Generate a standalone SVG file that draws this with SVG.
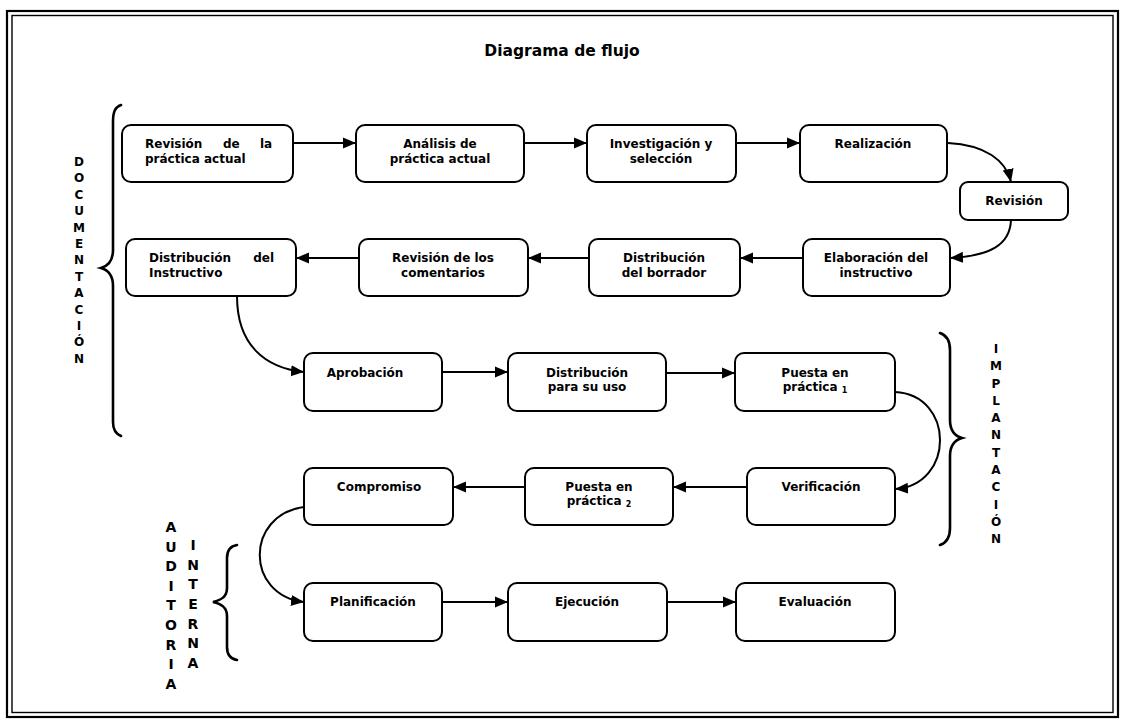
<svg xmlns="http://www.w3.org/2000/svg" width="1125" height="722" viewBox="0 0 1125 722">
<defs>
<marker id="ah" markerUnits="userSpaceOnUse" markerWidth="14" markerHeight="12" refX="13" refY="6" orient="auto">
<path d="M0,0.5 L13,6 L0,11.5 Z" fill="#000"/>
</marker>
<style>
.box{fill:#fff;stroke:#000;stroke-width:2}
.t{font-family:"DejaVu Sans",Verdana,sans-serif;font-weight:bold;font-size:12px;fill:#000}
.c{text-anchor:middle}
.con{fill:none;stroke:#000;stroke-width:2}
.arr{fill:none;stroke:#000;stroke-width:2;marker-end:url(#ah)}
.br{fill:none;stroke:#000;stroke-width:2.6;stroke-linecap:round}
.v{font-family:"DejaVu Sans",Verdana,sans-serif;font-weight:bold;font-size:12px;fill:#000;text-anchor:middle}
.sub{font-size:8px}
</style>
</defs>
<rect width="1125" height="722" fill="#fff"/>
<rect x="7" y="11" width="1111" height="706" fill="none" stroke="#000" stroke-width="2.2"/>
<rect x="12" y="15.5" width="1101" height="697" fill="none" stroke="#000" stroke-width="1.4"/>
<text x="562" y="56" class="t c" style="font-size:15.5px">Diagrama de flujo</text>

<g id="n1"><rect class="box" x="122" y="125" width="171" height="57" rx="9"/>
<text class="t" x="145" y="148">Revisión</text><text class="t" x="223" y="148">de</text><text class="t" x="260" y="148">la</text>
<text class="t" x="145" y="163">práctica actual</text></g>
<g id="n2"><rect class="box" x="356" y="125" width="168" height="57" rx="9"/>
<text class="t c" x="440" y="148">Análisis de</text><text class="t c" x="440" y="163">práctica actual</text></g>
<g id="n3"><rect class="box" x="587" y="125" width="149" height="57" rx="9"/>
<text class="t c" x="661" y="148">Investigación y</text><text class="t c" x="661" y="163">selección</text></g>
<g id="n4"><rect class="box" x="800" y="125" width="147" height="57" rx="9"/>
<text class="t c" x="873" y="148">Realización</text></g>
<g id="n5"><rect class="box" x="960" y="182" width="108" height="38" rx="8"/>
<text class="t c" x="1014" y="205">Revisión</text></g>
<g id="n6"><rect class="box" x="803" y="239" width="147" height="57" rx="9"/>
<text class="t c" x="876" y="262">Elaboración del</text><text class="t c" x="876" y="277">instructivo</text></g>
<g id="n7"><rect class="box" x="589" y="239" width="151" height="57" rx="9"/>
<text class="t c" x="664" y="262">Distribución</text><text class="t c" x="664" y="277">del borrador</text></g>
<g id="n8"><rect class="box" x="359" y="239" width="169" height="57" rx="9"/>
<text class="t c" x="443" y="262">Revisión de los</text><text class="t c" x="443" y="277">comentarios</text></g>
<g id="n9"><rect class="box" x="126" y="239" width="170" height="57" rx="9"/>
<text class="t" x="149" y="262">Distribución</text><text class="t" x="274" y="262" text-anchor="end">del</text>
<text class="t" x="149" y="277">Instructivo</text></g>
<g id="n10"><rect class="box" x="304" y="353" width="138" height="58" rx="9"/>
<text class="t c" x="365" y="377">Aprobación</text></g>
<g id="n11"><rect class="box" x="508" y="353" width="158" height="58" rx="9"/>
<text class="t c" x="587" y="377">Distribución</text><text class="t c" x="587" y="391">para su uso</text></g>
<g id="n12"><rect class="box" x="735" y="353" width="160" height="58" rx="9"/>
<text class="t c" x="815" y="377">Puesta en</text><text class="t c" x="815" y="391">práctica <tspan class="sub" dy="2">1</tspan></text></g>
<g id="n13"><rect class="box" x="747" y="468" width="148" height="57" rx="9"/>
<text class="t c" x="821" y="491">Verificación</text></g>
<g id="n14"><rect class="box" x="525" y="468" width="148" height="57" rx="9"/>
<text class="t c" x="599" y="491">Puesta en</text><text class="t c" x="599" y="505">práctica <tspan class="sub" dy="2">2</tspan></text></g>
<g id="n15"><rect class="box" x="304" y="468" width="149" height="57" rx="9"/>
<text class="t c" x="379" y="491">Compromiso</text></g>
<g id="n16"><rect class="box" x="304" y="583" width="138" height="58" rx="9"/>
<text class="t c" x="373" y="606">Planificación</text></g>
<g id="n17"><rect class="box" x="508" y="583" width="159" height="58" rx="9"/>
<text class="t c" x="587" y="606">Ejecución</text></g>
<g id="n18"><rect class="box" x="736" y="583" width="159" height="58" rx="9"/>
<text class="t c" x="815" y="606">Evaluación</text></g>

<g id="connectors">
<path class="arr" d="M293,143 H356"/>
<path class="arr" d="M524,143 H587"/>
<path class="arr" d="M736,143 H800"/>
<path class="arr" d="M948,143 C985,145 1006,160 1011,182"/>
<path class="arr" d="M1011,220 C1010,245 990,256 950,258"/>
<path class="arr" d="M803,258 H740"/>
<path class="arr" d="M589,258 H528"/>
<path class="arr" d="M359,258 H296"/>
<path class="arr" d="M237,296 C237,345 265,368 304,372"/>
<path class="arr" d="M442,372 H508"/>
<path class="arr" d="M666,373 H735"/>
<path class="arr" d="M895,392 C955,395 955,485 895,489"/>
<path class="arr" d="M747,487 H673"/>
<path class="arr" d="M525,487 H453"/>
<path class="arr" d="M304,507 C245,515 245,595 304,602"/>
<path class="arr" d="M442,602 H508"/>
<path class="arr" d="M667,602 H736"/>
</g>

<g id="braces">
<path class="br" d="M121,105 C115,107 113,112 113,122 V250 C113,261 108,266 101,268 C108,270 113,275 113,286 V422 C113,430 116,434 121,436"/>
<path class="br" d="M940,333 C946,335 950,340 950,350 V420 C950,431 955,436 962,438 C955,440 950,445 950,456 V528 C950,538 946,543 940,545"/>
<path class="br" d="M237,545 C231,546 227,550 227,558 V588 C227,597 221,600 213,602 C221,604 227,607 227,616 V647 C227,655 231,659 237,660"/>
</g>

<g id="label-documentacion">
<text class="v" x="79" y="166">D</text><text class="v" x="79" y="182.4">O</text><text class="v" x="79" y="198.8">C</text><text class="v" x="79" y="215.2">U</text><text class="v" x="79" y="231.6">M</text><text class="v" x="79" y="248">E</text><text class="v" x="79" y="264.4">N</text><text class="v" x="79" y="280.8">T</text><text class="v" x="79" y="297.2">A</text><text class="v" x="79" y="313.6">C</text><text class="v" x="79" y="330">I</text><text class="v" x="79" y="346.4">Ó</text><text class="v" x="79" y="362.8">N</text>
</g>
<g id="label-implantacion">
<text class="v" x="996" y="353">I</text><text class="v" x="996" y="370.3">M</text><text class="v" x="996" y="387.5">P</text><text class="v" x="996" y="404.8">L</text><text class="v" x="996" y="422.1">A</text><text class="v" x="996" y="439.4">N</text><text class="v" x="996" y="456.6">T</text><text class="v" x="996" y="473.9">A</text><text class="v" x="996" y="491.2">C</text><text class="v" x="996" y="508.5">I</text><text class="v" x="996" y="525.7">Ó</text><text class="v" x="996" y="543">N</text>
</g>
<g id="label-auditoria" style="font-size:14px">
<text class="v" style="font-size:14px" x="171" y="532">A</text><text class="v" style="font-size:14px" x="171" y="551.6">U</text><text class="v" style="font-size:14px" x="171" y="571.2">D</text><text class="v" style="font-size:14px" x="171" y="590.8">I</text><text class="v" style="font-size:14px" x="171" y="610.4">T</text><text class="v" style="font-size:14px" x="171" y="630">O</text><text class="v" style="font-size:14px" x="171" y="649.6">R</text><text class="v" style="font-size:14px" x="171" y="669.2">I</text><text class="v" style="font-size:14px" x="171" y="688.8">A</text>
</g>
<g id="label-interna">
<text class="v" style="font-size:14px" x="193" y="550">I</text><text class="v" style="font-size:14px" x="193" y="569.7">N</text><text class="v" style="font-size:14px" x="193" y="589.3">T</text><text class="v" style="font-size:14px" x="193" y="609">E</text><text class="v" style="font-size:14px" x="193" y="628.7">R</text><text class="v" style="font-size:14px" x="193" y="648.3">N</text><text class="v" style="font-size:14px" x="193" y="668">A</text>
</g>
</svg>
